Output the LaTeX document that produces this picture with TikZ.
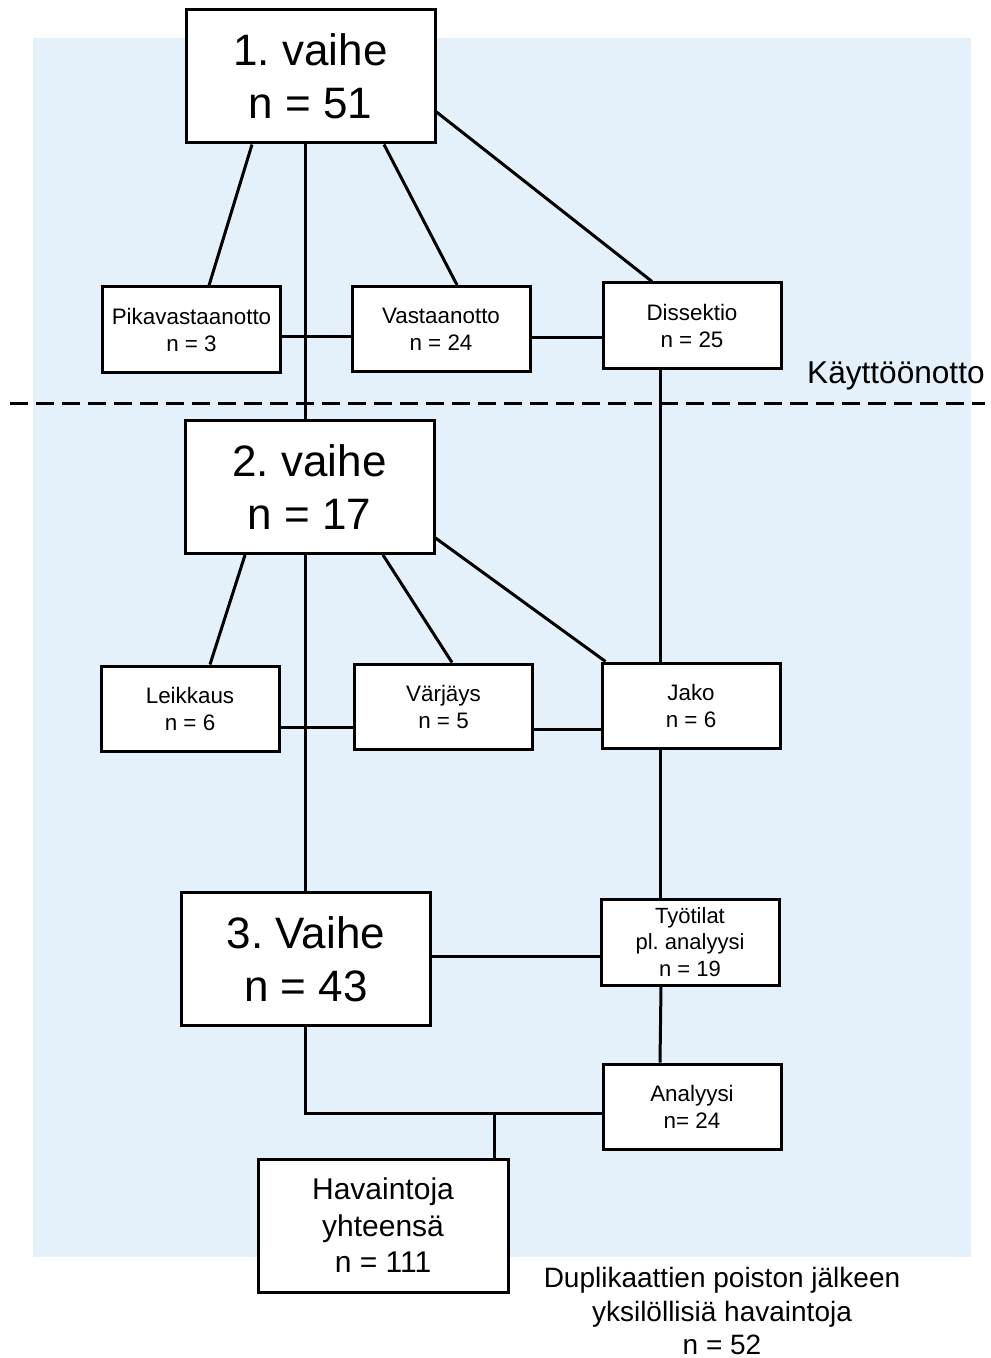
\documentclass[tikz,border=0pt]{standalone}
\usepackage{fontspec}
\setmainfont{Liberation Sans}
\frenchspacing
\definecolor{bgblue}{RGB}{228,241,251}
\begin{document}
\begin{tikzpicture}[x=0.5pt,y=-0.5pt,
  box/.style={draw=black, line width=1.5pt, fill=white, inner sep=0pt, align=center},
  bigbox/.style={box, minimum width=124.5pt, minimum height=66.5pt, font=\fontsize{22}{26.5}\selectfont},
  smallbox/.style={box, minimum width=89pt, minimum height=42.5pt, font=\fontsize{11.2}{13.5}\selectfont},
  conn/.style={line width=1.5pt}
]
\useasboundingbox (0,0) rectangle (990,1358);
\fill[bgblue] (33,38) rectangle (971,1257);

% nodes
\node[bigbox] (b1) at (310.5,76.5) {1. vaihe\\n = 51};
\node[smallbox] (pika) at (191.5,329.5) {Pikavastaanotto\\n = 3};
\node[smallbox] (vasta) at (441,329) {Vastaanotto\\n = 24};
\node[smallbox] (diss) at (692,325.5) {Dissektio\\n = 25};
\node[bigbox] (b2) at (309.5,487) {2. vaihe\\n = 17};
\node[smallbox] (leik) at (190,708.5) {Leikkaus\\n = 6};
\node[smallbox] (varj) at (443.5,706.5) {Värjäys\\n = 5};
\node[smallbox] (jako) at (691,705.5) {Jako\\n = 6};
\node[bigbox] (b3) at (306,959) {3. Vaihe\\n = 43};
\node[smallbox, minimum height=43pt, font=\fontsize{11}{13.25}\selectfont] (tyot) at (690,942) {Työtilat\\pl. analyysi\\n = 19};
\node[smallbox] (anal) at (692,1106.5) {Analyysi\\n= 24};
\node[box, minimum width=125pt, minimum height=66.5pt, font=\fontsize{15}{18.25}\selectfont] (hav) at (383,1225.5) {Havaintoja\\yhteensä\\n = 111};

\node[align=center, font=\fontsize{14}{16.75}\selectfont] (dup) at (722,1311) {Duplikaattien poiston jälkeen\\yksilöllisiä havaintoja\\n = 52};
\node[anchor=base east, inner sep=0pt, font=\fontsize{15.8}{19}\selectfont] (kay) at (985,383) {Käyttöönotto};

% dashed line
\coordinate (dl) at (10,403);
\coordinate (dr) at (985,403);
\draw[line width=1.5pt, dash pattern=on 9pt off 4pt] (dl) -- (dr);

% connectors phase 1
\draw[conn] ([xshift=-29.25pt]b1.south) -- ([xshift=8.75pt]pika.north);
\draw[conn] ([xshift=36.75pt]b1.south) -- ([xshift=8pt]vasta.north);
\draw[conn] ([yshift=-17.75pt]b1.east) -- ([xshift=-20pt]diss.north);
\draw[conn] ([xshift=-2.75pt]b1.south) coordinate (v1) -- (v1 |- b2.north);
\draw[conn] ([yshift=-3.75pt]pika.east) coordinate (p1) -- (p1 -| vasta.west);
\draw[conn] ([yshift=-4.25pt]vasta.east) coordinate (p2) -- (p2 -| diss.west);
\draw[conn] ([xshift=-16pt]diss.south) coordinate (d1) -- (d1 |- jako.north);

% connectors phase 2
\draw[conn] ([xshift=-32.25pt]b2.south) -- ([xshift=10pt]leik.north);
\draw[conn] ([xshift=36.75pt]b2.south) -- ([xshift=4.25pt]varj.north);
\draw[conn] ([yshift=-25.5pt]b2.east) -- ([xshift=2.5pt]jako.north west);
\draw[conn] ([xshift=-2.25pt]b2.south) coordinate (v2) -- (v2 |- b3.north);
\draw[conn] ([yshift=-9.25pt]leik.east) coordinate (p3) -- (p3 -| varj.west);
\draw[conn] ([yshift=-11.25pt]varj.east) coordinate (p4) -- (p4 -| jako.west);
\draw[conn] ([xshift=-15.5pt]jako.south) coordinate (j1) -- (j1 |- tyot.north);

% connectors phase 3
\draw[conn] ([yshift=1.5pt]b3.east) coordinate (p5) -- (p5 -| tyot.west);
\draw[conn] ([xshift=-14.5pt]tyot.south) -- ([xshift=-16pt]anal.north);
\coordinate (jl) at ([yshift=-3.25pt]anal.west);
\draw[conn] ([xshift=-0.5pt]b3.south) |- (jl);
\draw[conn] ([xshift=55.5pt]hav.north) coordinate (h1) -- (h1 |- jl);
\end{tikzpicture}
\end{document}
